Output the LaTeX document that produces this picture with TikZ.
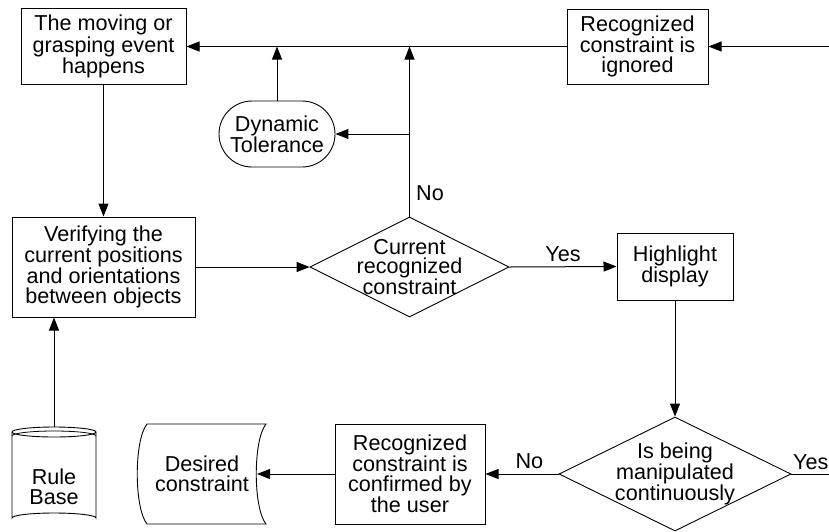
\documentclass[tikz,border=0pt]{standalone}
\usepackage{fontspec}
\setmainfont{Liberation Sans}
\usetikzlibrary{arrows.meta,shapes.geometric,shapes.misc}
\begin{document}
\begin{tikzpicture}[x=1pt,y=-1pt,
  every node/.style={font=\fontsize{21.6}{19.6}\selectfont, align=center, inner sep=0pt},
  box/.style={draw, line width=1pt, rectangle},
  dia/.style={draw, line width=0.9pt, diamond, shape aspect=2},
  stadium/.style={draw, line width=0.9pt, rounded rectangle},
  conn/.style={line width=1pt},
  arr/.style={conn, -{Triangle[length=13pt,width=10pt]}},
  lbl/.style={font=\fontsize{21.6}{19.6}\selectfont}
]
\useasboundingbox (0,0) rectangle (829,531);
\clip (0,0) rectangle (829,531);

% process boxes
\node[box, minimum width=165, minimum height=76] (ev) at (103.5,46.5)
  {The moving or\\grasping event\\happens};
\node[box, minimum width=141, minimum height=75] (ign) at (637.5,46.5)
  {Recognized\\constraint is\\ignored};
\node[stadium, minimum width=116, minimum height=66] (dyn) at (277,134)
  {Dynamic\\Tolerance};
\node[box, minimum width=183, minimum height=100] (ver) at (103.5,267)
  {Verifying the\\current positions\\and orientations\\between objects};
\node[box, minimum width=116, minimum height=67] (hl) at (675,266.5)
  {Highlight\\display};
\node[box, minimum width=150, minimum height=100] (conf) at (410,474)
  {Recognized\\constraint is\\confirmed by\\the user};

% decisions
\node[dia, minimum width=199, minimum height=100] (cur) at (409.5,267) {};
\node at (cur) {Current\\recognized\\constraint};
\node[dia, minimum width=232, minimum height=114] (man) at (675,474) {};
\node at (man) {Is being\\manipulated\\continuously};

% stored data: desired constraint
\draw[line width=0.9pt] (147,424) -- (266,424)
  .. controls (253,440) and (253,508) .. (266,524) -- (147,524)
  .. controls (134,508) and (134,440) .. (147,424) -- cycle;
\node (des) at (202,474) {Desired\\constraint};
\coordinate (desR) at (257,474);

% rule base cylinder
\draw[line width=0.9pt] (12,432) -- (12,518) arc[start angle=180, end angle=360, x radius=42, y radius=5]
  -- (96,432);
\draw[line width=0.9pt] (54,432) ellipse [x radius=42, y radius=5];
\draw[line width=0.8pt] (12,436) arc[start angle=180, end angle=360, x radius=42, y radius=5];
\node (rb) at (54,487) {Rule\\Base};
\coordinate (rbT) at (54,427);

% off-page ends
\coordinate (inR) at (845,46.5);
\coordinate (outR) at (845,474);

% connectors
\draw[arr] (ign.west) -- (ev.east);
\draw[arr] (inR) -- (ign.east);
\draw[arr] (ev.south) -- (ver.north);
\draw[arr] (rbT) -- (rbT |- ver.south);
\draw[arr] (ver.east) -- (cur.west);
\draw[arr] (cur.north) -- (cur.north |- ev.east);
\draw[arr] (cur.north |- dyn.east) -- (dyn.east);
\draw[arr] (dyn.north) -- (dyn.north |- ev.east);
\draw[arr] (cur.east) -- node[lbl, above=5pt] {Yes} (hl.west);
\draw[arr] (hl.south) -- (man.north);
\draw[arr] (man.west) -- node[lbl, above=5pt, pos=0.4] {No} (conf.east);
\draw[conn] (man.east) -- (outR);
\draw[arr] (conf.west) -- (desR);

% branch labels
\node[lbl, anchor=west] at (416,193) {No};
\node[lbl, anchor=south west] at (793,470) {Yes};
\end{tikzpicture}
\end{document}
